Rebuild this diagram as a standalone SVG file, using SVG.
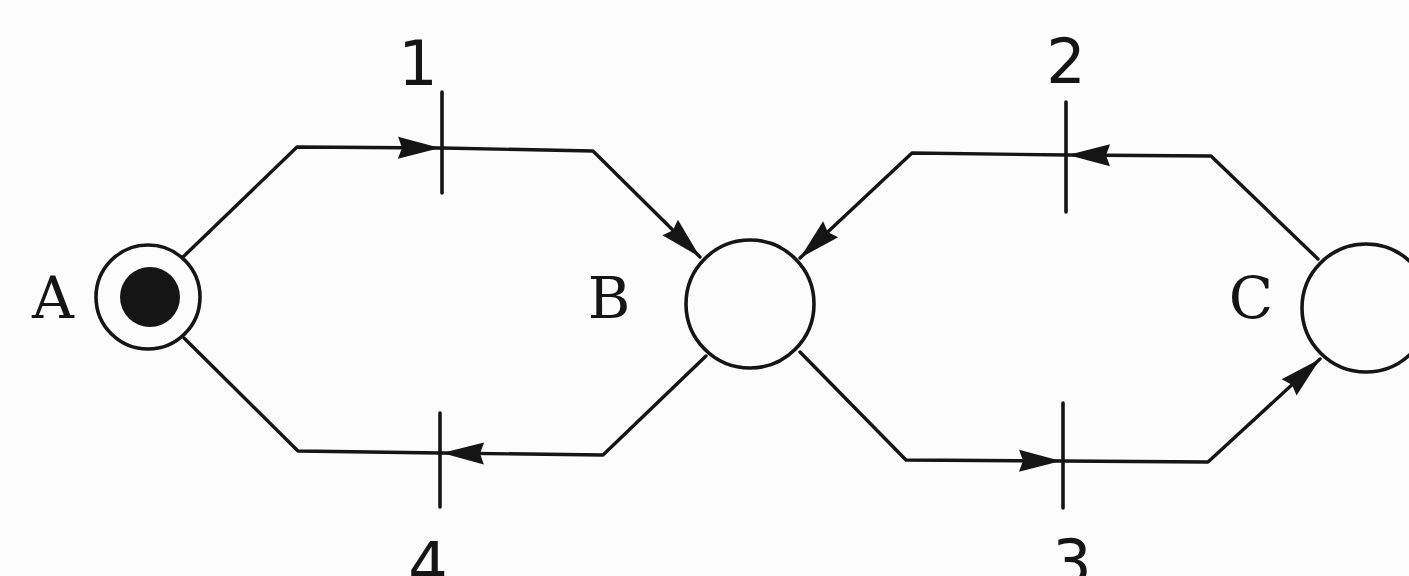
<svg xmlns="http://www.w3.org/2000/svg" width="1409" height="576" viewBox="0 0 1409 576">
<style>
.arc{fill:none;stroke:#151515;stroke-width:3.4;stroke-linejoin:round;stroke-linecap:round}
.place{fill:none;stroke:#151515;stroke-width:3.6}
.trans{stroke:#151515;stroke-width:3.6;stroke-linecap:round}
.num{font-family:"DejaVu Sans",sans-serif;font-size:62px;fill:#151515;text-anchor:middle}
.lbl{font-family:"DejaVu Serif",serif;font-size:58px;fill:#151515;text-anchor:middle}
</style>
<defs>
<marker id="ah" markerUnits="userSpaceOnUse" markerWidth="50" markerHeight="30" viewBox="-2 -13 50 26" refX="42" refY="0" orient="auto">
<path d="M0,-11 L42,0 L0,11 L4,0 z" fill="#151515"/>
</marker>
</defs>
<rect width="1409" height="576" fill="#fcfcfc"/>
<g id="connectors">
<path class="arc" d="M183,257 L297,147 L440,148" marker-end="url(#ah)"/>
<path class="arc" d="M442,148 L593,151 L700,257" marker-end="url(#ah)"/>
<path class="arc" d="M706,356 L603,455 L442,453" marker-end="url(#ah)"/>
<path class="arc" d="M440,453 L298,451 L184,338"/>
<path class="arc" d="M1318,259 L1211,156 L1068,155" marker-end="url(#ah)"/>
<path class="arc" d="M1066,155 L912,153 L800,258" marker-end="url(#ah)"/>
<path class="arc" d="M800,352 L906,460 L1061,461" marker-end="url(#ah)"/>
<path class="arc" d="M1063,461 L1208,462 L1320,359" marker-end="url(#ah)"/>
</g>
<g id="placeA">
<circle class="place" cx="148" cy="297" r="52"/>
<circle cx="150" cy="297" r="30" fill="#151515"/>
<text class="lbl" x="53" y="318">A</text>
</g>
<g id="placeB">
<circle class="place" cx="750" cy="304" r="64"/>
<text class="lbl" x="609" y="318">B</text>
</g>
<g id="placeC">
<circle class="place" cx="1366" cy="308" r="64"/>
<text class="lbl" x="1251" y="318">C</text>
</g>
<g id="t1">
<line class="trans" x1="442" y1="92" x2="442" y2="193"/>
<text class="num" x="418" y="85">1</text>
</g>
<g id="t2">
<line class="trans" x1="1066" y1="102" x2="1066" y2="212"/>
<text class="num" x="1066" y="83">2</text>
</g>
<g id="t3">
<line class="trans" x1="1063" y1="403" x2="1063" y2="508"/>
<text class="num" x="1072" y="584">3</text>
</g>
<g id="t4">
<line class="trans" x1="440" y1="413" x2="440" y2="507"/>
<text class="num" x="428" y="587">4</text>
</g>
</svg>
